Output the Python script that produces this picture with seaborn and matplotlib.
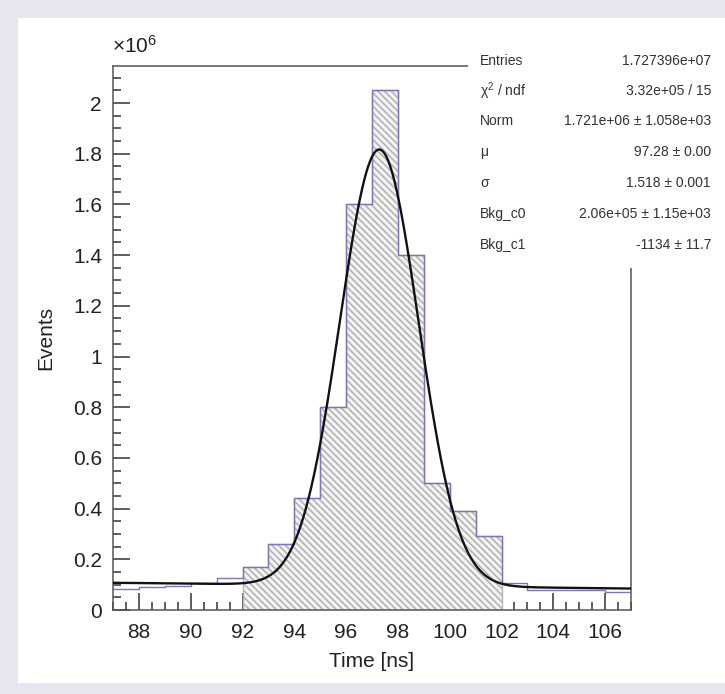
import numpy as np
import pandas as pd
import matplotlib
matplotlib.use('Agg')
import matplotlib.pyplot as plt
import matplotlib.ticker as ticker
from matplotlib.patches import Rectangle
import seaborn as sns

# bin edges [ns] and bin contents [events]
bin_edges = list(range(87, 108))
bin_counts = [0.083e6, 0.092e6, 0.093e6, 0.105e6, 0.125e6,
              0.17e6, 0.26e6, 0.44e6, 0.80e6, 1.60e6,
              2.05e6, 1.40e6, 0.50e6, 0.39e6, 0.29e6,
              0.105e6, 0.080e6, 0.080e6, 0.079e6, 0.072e6]
fit_lo, fit_hi = 92, 102

# fit parameters from the stats box
norm_par = 1.721e6
mu_par = 97.28
sigma_par = 1.518
bkg_c0 = 2.06e5
bkg_c1 = -1134

stat_labels = ['Entries', 'χ$^{2}$ / ndf', 'Norm', 'μ', 'σ', 'Bkg_c0', 'Bkg_c1']
stat_values = ['1.727396e+07', '3.32e+05 / 15', '1.721e+06 ± 1.058e+03',
               '97.28 ± 0.00', '1.518 ± 0.001', '2.06e+05 ± 1.15e+03', '-1134 ± 11.7']

sns.set_theme(style='white')
plt.rcParams['font.family'] = ['Liberation Sans', 'DejaVu Sans']
plt.rcParams['mathtext.fontset'] = 'custom'
plt.rcParams['mathtext.rm'] = 'Liberation Sans'
plt.rcParams['mathtext.it'] = 'Liberation Sans:italic'
plt.rcParams['hatch.linewidth'] = 1.2

W, H = 725, 694
fig = plt.figure(figsize=(W / 100, H / 100), dpi=100)
fig.patch.set_facecolor('#e6e6ee')
fig.add_artist(Rectangle((18 / W, 11 / H), 1, 665 / H, transform=fig.transFigure,
                         facecolor='white', edgecolor='none', zorder=-5))

ax = fig.add_axes([113 / W, 84 / H, 518 / W, 544 / H])
ax.set_facecolor('white')

centers = [e + 0.5 for e in bin_edges[:-1]]
df = pd.DataFrame({'time': centers, 'events': bin_counts})

# hatched part of the histogram (fit range)
sel = (df['time'] > fit_lo) & (df['time'] < fit_hi)
xs = [e for e in bin_edges if fit_lo <= e <= fit_hi]
ys = list(df.loc[sel, 'events']) + [df.loc[sel, 'events'].iloc[-1]]
ax.fill_between(xs, ys, step='post', facecolor='#f4f4f4', edgecolor='#b4b4b4',
                hatch='\\' * 5, linewidth=1.0, zorder=1)

sns.histplot(data=df, x='time', weights='events', bins=bin_edges, element='step',
             fill=False, color='#7878b4', linewidth=1.0, ax=ax, zorder=2)

# fit function: gaussian + linear background
xf = np.linspace(87, 107, 500)
yf = norm_par * np.exp(-0.5 * ((xf - mu_par) / sigma_par) ** 2) + bkg_c0 + bkg_c1 * xf
sns.lineplot(x=xf, y=yf, color='#111111', linewidth=1.7, ax=ax, zorder=3)

ax.set_xlim(87, 107)
ax.set_ylim(0, 2.146e6)
ax.xaxis.set_major_locator(ticker.MultipleLocator(2))
ax.xaxis.set_minor_locator(ticker.MultipleLocator(0.5))
ax.yaxis.set_major_locator(ticker.MultipleLocator(0.2e6))
ax.yaxis.set_minor_locator(ticker.MultipleLocator(0.05e6))
ax.yaxis.set_major_formatter(ticker.FuncFormatter(lambda v, p: '%g' % round(v / 1e6, 3)))
ax.tick_params(which='both', direction='in', left=True, bottom=True, top=False, right=False,
               color='#333333', width=1.1, labelsize=15, labelcolor='#222222')
ax.tick_params(which='major', length=12.5, pad=9)
ax.tick_params(which='minor', length=6)
ax.tick_params(axis='y', pad=8)
for s in ax.spines.values():
    s.set_color('#555555')
    s.set_linewidth(1.1)

ax.set_xlabel('Time [ns]', fontsize=15, color='#222222')
ax.set_ylabel('Events', fontsize=15, color='#222222')
ax.xaxis.set_label_coords(0.5, -0.078)
ax.yaxis.set_label_coords(-0.112, 0.5)

fig.text(112 / W, 1 - 46 / H, r'×10$^{6}$', fontsize=15, color='#222222', va='center', ha='left')

# stats box
fig.add_artist(Rectangle((468 / W, 1 - 268 / H), 1, 250 / H, transform=fig.transFigure,
                         facecolor='white', edgecolor='none', zorder=5))
row_y = [61, 91, 121, 152, 183, 214, 245]
for lab, val, yy in zip(stat_labels, stat_values, row_y):
    fig.text(480 / W, 1 - yy / H, lab, fontsize=10, color='#333333', va='center', ha='left', zorder=6)
    fig.text(711 / W, 1 - yy / H, val, fontsize=10, color='#333333', va='center', ha='right', zorder=6)

fig.savefig('out.png', dpi=100, facecolor=fig.get_facecolor())
